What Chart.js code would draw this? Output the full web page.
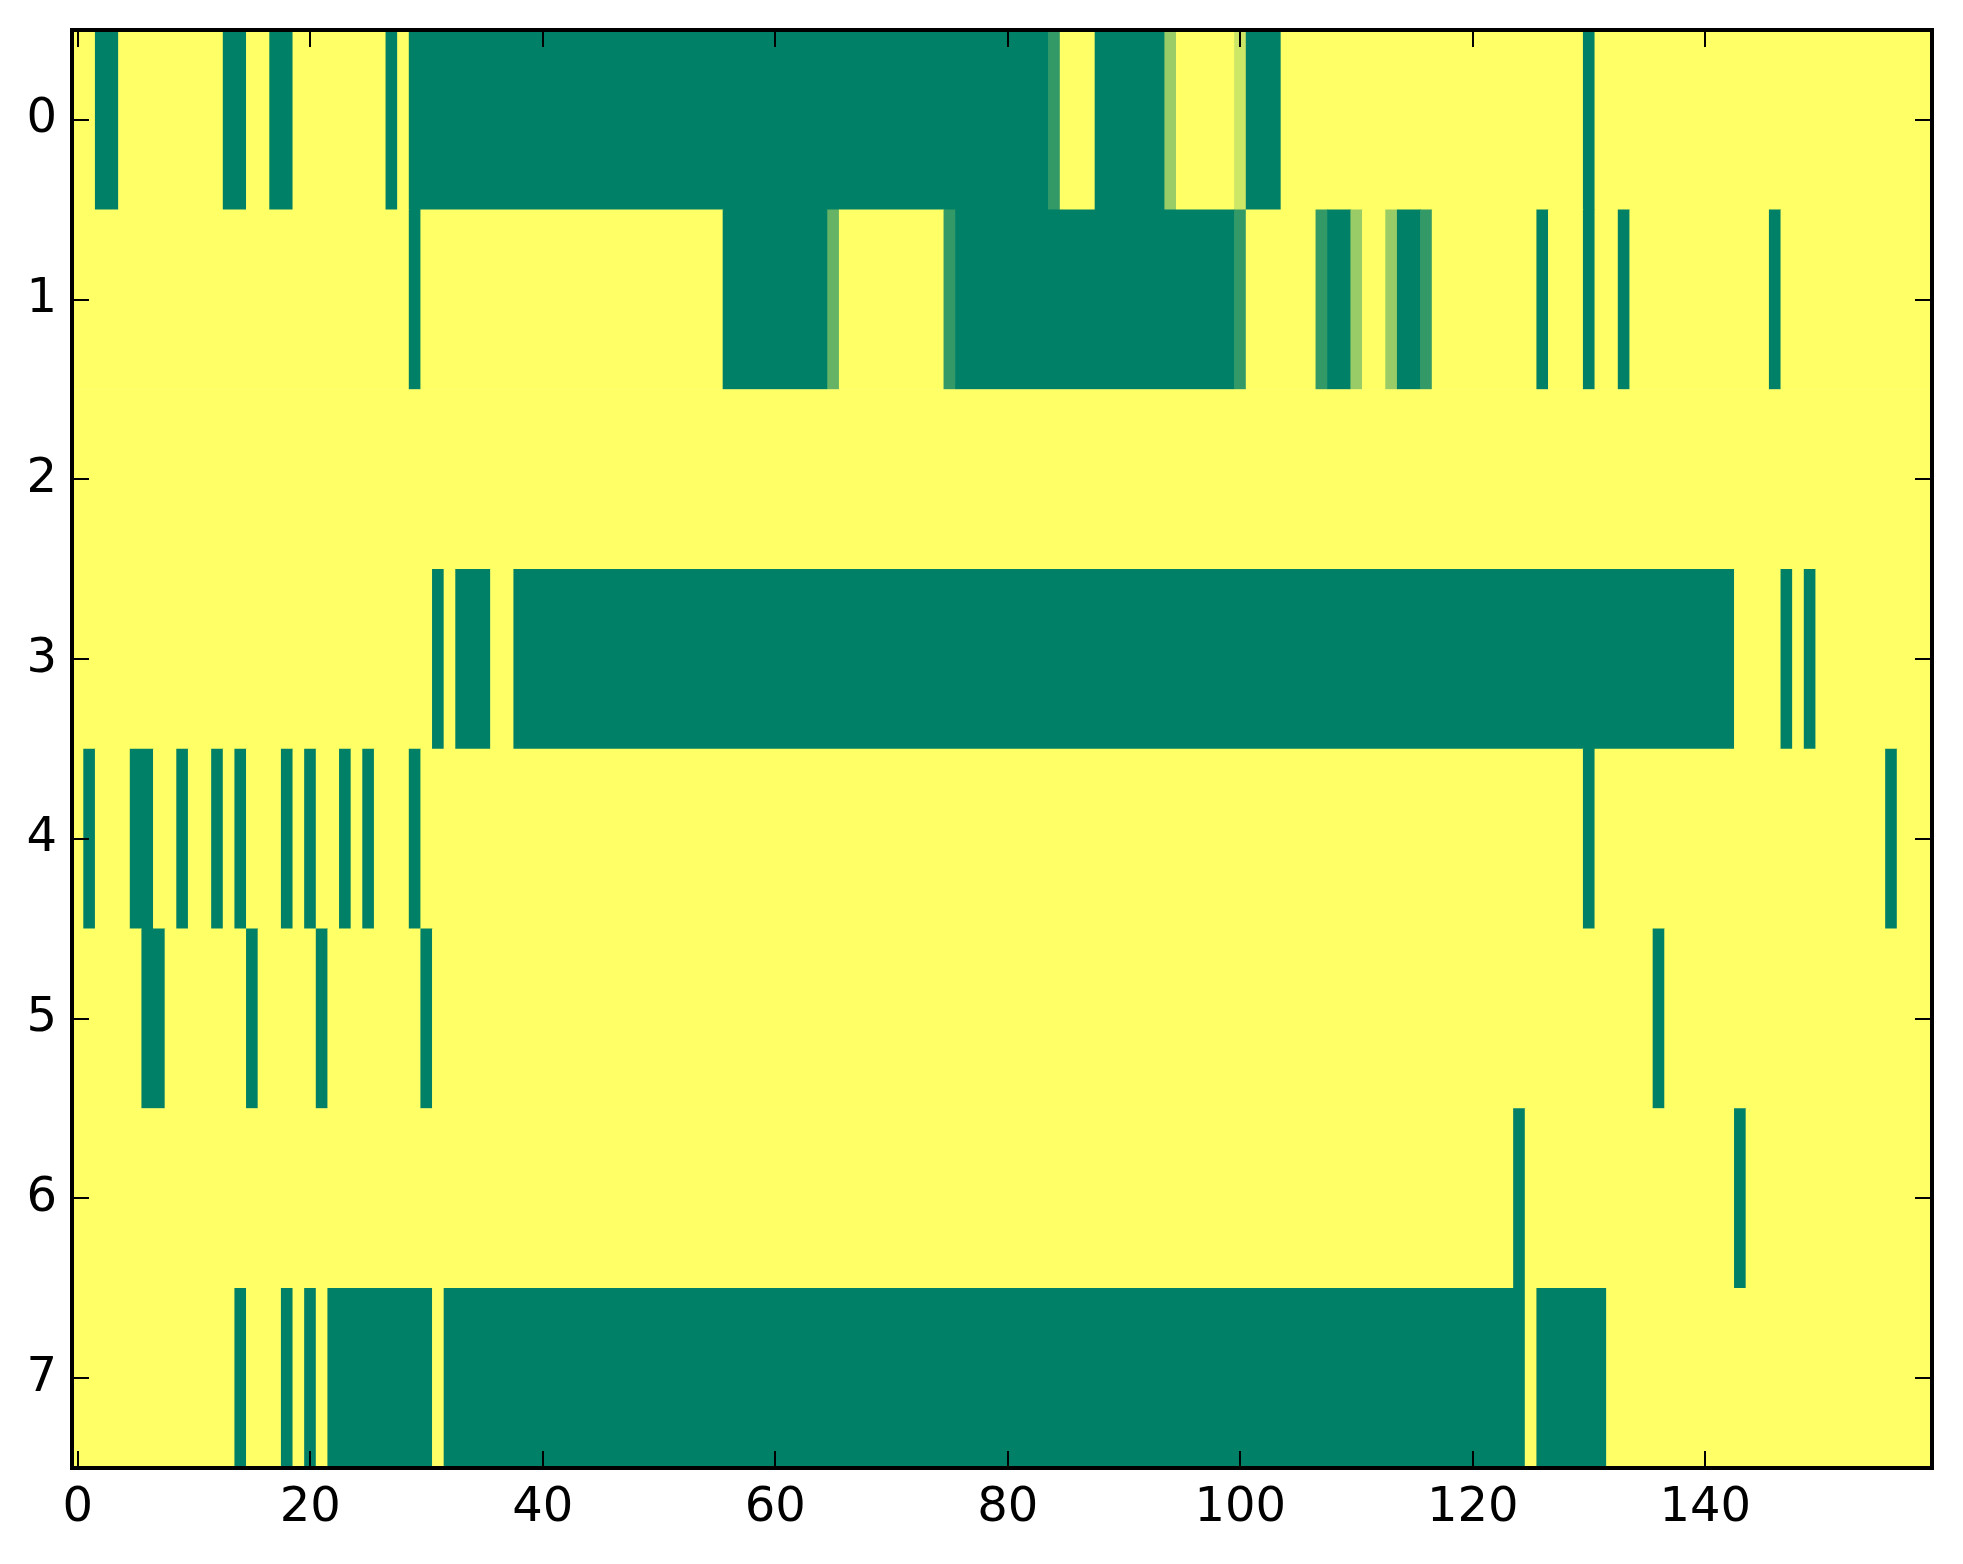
<!DOCTYPE html>
<html>
<head>
<meta charset="utf-8">
<script src="https://cdn.jsdelivr.net/npm/chart.js@4.4.1/dist/chart.umd.min.js"></script>
<style>
	html, body { margin: 0; padding: 0; background: #fff; }
	canvas { display: block; }
</style>
</head>
<body>
<canvas id="heat" width="1963" height="1564"></canvas>
<script>
// one array per row, 160 columns, 0 = green, 1 = yellow
var row0 = [
	1,1,0,0,1,1,1,1,1,1, 1,1,1,0,0,1,1,0,0,1, 1,1,1,1,1,1,1,0,1,0, 0,0,0,0,0,0,0,0,0,0,
	0,0,0,0,0,0,0,0,0,0, 0,0,0,0,0,0,0,0,0,0, 0,0,0,0,0,0,0,0,0,0, 0,0,0,0,0,0,0,0,0,0,
	0,0,0,0,0.2,1,1,1,0,0, 0,0,0,0,0.6,1,1,1,1,1, 0.8,0,0,0,1,1,1,1,1,1, 1,1,1,1,1,1,1,1,1,1,
	1,1,1,1,1,1,1,1,1,1, 0,1,1,1,1,1,1,1,1,1, 1,1,1,1,1,1,1,1,1,1, 1,1,1,1,1,1,1,1,1,1
];
var row1 = [
	1,1,1,1,1,1,1,1,1,1, 1,1,1,1,1,1,1,1,1,1, 1,1,1,1,1,1,1,1,1,0, 1,1,1,1,1,1,1,1,1,1,
	1,1,1,1,1,1,1,1,1,1, 1,1,1,1,1,1,0,0,0,0, 0,0,0,0,0,0.4,1,1,1,1, 1,1,1,1,1,0.2,0,0,0,0,
	0,0,0,0,0,0,0,0,0,0, 0,0,0,0,0,0,0,0,0,0, 0.2,1,1,1,1,1,1,0.2,0,0, 0.6,1,1,0.6,0,0,0.2,1,1,1,
	1,1,1,1,1,1,0,1,1,1, 0,1,1,0,1,1,1,1,1,1, 1,1,1,1,1,1,0,1,1,1, 1,1,1,1,1,1,1,1,1,1
];
var row2 = [
	1,1,1,1,1,1,1,1,1,1, 1,1,1,1,1,1,1,1,1,1, 1,1,1,1,1,1,1,1,1,1, 1,1,1,1,1,1,1,1,1,1,
	1,1,1,1,1,1,1,1,1,1, 1,1,1,1,1,1,1,1,1,1, 1,1,1,1,1,1,1,1,1,1, 1,1,1,1,1,1,1,1,1,1,
	1,1,1,1,1,1,1,1,1,1, 1,1,1,1,1,1,1,1,1,1, 1,1,1,1,1,1,1,1,1,1, 1,1,1,1,1,1,1,1,1,1,
	1,1,1,1,1,1,1,1,1,1, 1,1,1,1,1,1,1,1,1,1, 1,1,1,1,1,1,1,1,1,1, 1,1,1,1,1,1,1,1,1,1
];
var row3 = [
	1,1,1,1,1,1,1,1,1,1, 1,1,1,1,1,1,1,1,1,1, 1,1,1,1,1,1,1,1,1,1, 1,0,1,0,0,0,1,1,0,0,
	0,0,0,0,0,0,0,0,0,0, 0,0,0,0,0,0,0,0,0,0, 0,0,0,0,0,0,0,0,0,0, 0,0,0,0,0,0,0,0,0,0,
	0,0,0,0,0,0,0,0,0,0, 0,0,0,0,0,0,0,0,0,0, 0,0,0,0,0,0,0,0,0,0, 0,0,0,0,0,0,0,0,0,0,
	0,0,0,0,0,0,0,0,0,0, 0,0,0,0,0,0,0,0,0,0, 0,0,0,1,1,1,1,0,1,0, 1,1,1,1,1,1,1,1,1,1
];
var row4 = [
	1,0,1,1,1,0,0,1,1,0, 1,1,0,1,0,1,1,1,0,1, 0,1,1,0,1,0,1,1,1,0, 1,1,1,1,1,1,1,1,1,1,
	1,1,1,1,1,1,1,1,1,1, 1,1,1,1,1,1,1,1,1,1, 1,1,1,1,1,1,1,1,1,1, 1,1,1,1,1,1,1,1,1,1,
	1,1,1,1,1,1,1,1,1,1, 1,1,1,1,1,1,1,1,1,1, 1,1,1,1,1,1,1,1,1,1, 1,1,1,1,1,1,1,1,1,1,
	1,1,1,1,1,1,1,1,1,1, 0,1,1,1,1,1,1,1,1,1, 1,1,1,1,1,1,1,1,1,1, 1,1,1,1,1,1,0,1,1,1
];
var row5 = [
	1,1,1,1,1,1,0,0,1,1, 1,1,1,1,1,0,1,1,1,1, 1,0,1,1,1,1,1,1,1,1, 0,1,1,1,1,1,1,1,1,1,
	1,1,1,1,1,1,1,1,1,1, 1,1,1,1,1,1,1,1,1,1, 1,1,1,1,1,1,1,1,1,1, 1,1,1,1,1,1,1,1,1,1,
	1,1,1,1,1,1,1,1,1,1, 1,1,1,1,1,1,1,1,1,1, 1,1,1,1,1,1,1,1,1,1, 1,1,1,1,1,1,1,1,1,1,
	1,1,1,1,1,1,1,1,1,1, 1,1,1,1,1,1,0,1,1,1, 1,1,1,1,1,1,1,1,1,1, 1,1,1,1,1,1,1,1,1,1
];
var row6 = [
	1,1,1,1,1,1,1,1,1,1, 1,1,1,1,1,1,1,1,1,1, 1,1,1,1,1,1,1,1,1,1, 1,1,1,1,1,1,1,1,1,1,
	1,1,1,1,1,1,1,1,1,1, 1,1,1,1,1,1,1,1,1,1, 1,1,1,1,1,1,1,1,1,1, 1,1,1,1,1,1,1,1,1,1,
	1,1,1,1,1,1,1,1,1,1, 1,1,1,1,1,1,1,1,1,1, 1,1,1,1,1,1,1,1,1,1, 1,1,1,1,1,1,1,1,1,1,
	1,1,1,1,0,1,1,1,1,1, 1,1,1,1,1,1,1,1,1,1, 1,1,1,0,1,1,1,1,1,1, 1,1,1,1,1,1,1,1,1,1
];
var row7 = [
	1,1,1,1,1,1,1,1,1,1, 1,1,1,1,0,1,1,1,0,1, 0,1,0,0,0,0,0,0,0,0, 0,1,0,0,0,0,0,0,0,0,
	0,0,0,0,0,0,0,0,0,0, 0,0,0,0,0,0,0,0,0,0, 0,0,0,0,0,0,0,0,0,0, 0,0,0,0,0,0,0,0,0,0,
	0,0,0,0,0,0,0,0,0,0, 0,0,0,0,0,0,0,0,0,0, 0,0,0,0,0,0,0,0,0,0, 0,0,0,0,0,0,0,0,0,0,
	0,0,0,0,0,1,0,0,0,0, 0,0,1,1,1,1,1,1,1,1, 1,1,1,1,1,1,1,1,1,1, 1,1,1,1,1,1,1,1,1,1
];
var rows = [row0, row1, row2, row3, row4, row5, row6, row7];
var xTicks = [0, 20, 40, 60, 80, 100, 120, 140];
var yTicks = [0, 1, 2, 3, 4, 5, 6, 7];

// matplotlib "summer" colormap
function summer(v) {
	var r = Math.round(255 * v);
	var g = Math.round(127.5 + 127.5 * v);
	return 'rgb(' + r + ',' + g + ',102)';
}

// merge runs of equal values into floating bars
var cells = [];
rows.forEach(function (row, r) {
	var start = 0;
	for (var c = 1; c <= row.length; c++) {
		if (c === row.length || row[c] !== row[start]) {
			cells.push({ x: [start - 0.5, c - 0.5], y: r, v: row[start] });
			start = c;
		}
	}
});

var frame = {
	id: 'frame',
	afterDatasetsDraw: function (chart) {
		var ctx = chart.ctx;
		var a = chart.chartArea;
		var sx = chart.scales.x;
		var sy = chart.scales.y;
		var len = 17;
		ctx.save();
		ctx.strokeStyle = '#000';
		ctx.lineWidth = 2;
		ctx.beginPath();
		xTicks.forEach(function (t) {
			var px = Math.round(sx.getPixelForValue(t));
			ctx.moveTo(px, a.bottom); ctx.lineTo(px, a.bottom - len);
			ctx.moveTo(px, a.top); ctx.lineTo(px, a.top + len);
		});
		yTicks.forEach(function (t) {
			var py = Math.round(sy.getPixelForValue(t));
			ctx.moveTo(a.left, py); ctx.lineTo(a.left + len, py);
			ctx.moveTo(a.right, py); ctx.lineTo(a.right - len, py);
		});
		ctx.stroke();
		ctx.lineWidth = 4;
		ctx.strokeRect(a.left, a.top, a.right - a.left, a.bottom - a.top);
		ctx.restore();
	}
};

Chart.defaults.font.family = '"DejaVu Sans", sans-serif';
Chart.defaults.font.size = 48;
Chart.defaults.color = '#000';

var heat = new Chart(document.getElementById('heat'), {
	type: 'bar',
	data: {
		datasets: [{
			data: cells,
			backgroundColor: function (c) { return c.raw ? summer(c.raw.v) : '#fff'; },
			borderWidth: 0,
			barPercentage: 1,
			categoryPercentage: 1
		}]
	},
	options: {
		indexAxis: 'y',
		responsive: false,
		animation: false,
		devicePixelRatio: 1,
		layout: { padding: { top: 30, right: 31, left: 0, bottom: 0 } },
		plugins: { legend: { display: false }, tooltip: { enabled: false } },
		scales: {
			x: {
				type: 'linear',
				min: -0.5,
				max: 159.5,
				afterBuildTicks: function (s) { s.ticks = xTicks.map(function (v) { return { value: v }; }); },
				afterFit: function (s) { s.height = 96; s.paddingLeft = 0; s.paddingRight = 0; },
				grid: { display: false, drawTicks: false },
				border: { display: false },
				ticks: { padding: 12, maxRotation: 0 }
			},
			y: {
				type: 'linear',
				reverse: true,
				offset: false,
				min: -0.5,
				max: 7.5,
				afterBuildTicks: function (s) { s.ticks = yTicks.map(function (v) { return { value: v }; }); },
				afterFit: function (s) { s.width = 72; s.paddingTop = 0; s.paddingBottom = 0; },
				grid: { display: false, drawTicks: false, offset: false },
				border: { display: false },
				ticks: { padding: 15 }
			}
		}
	},
	plugins: [frame]
});
</script>
</body>
</html>
